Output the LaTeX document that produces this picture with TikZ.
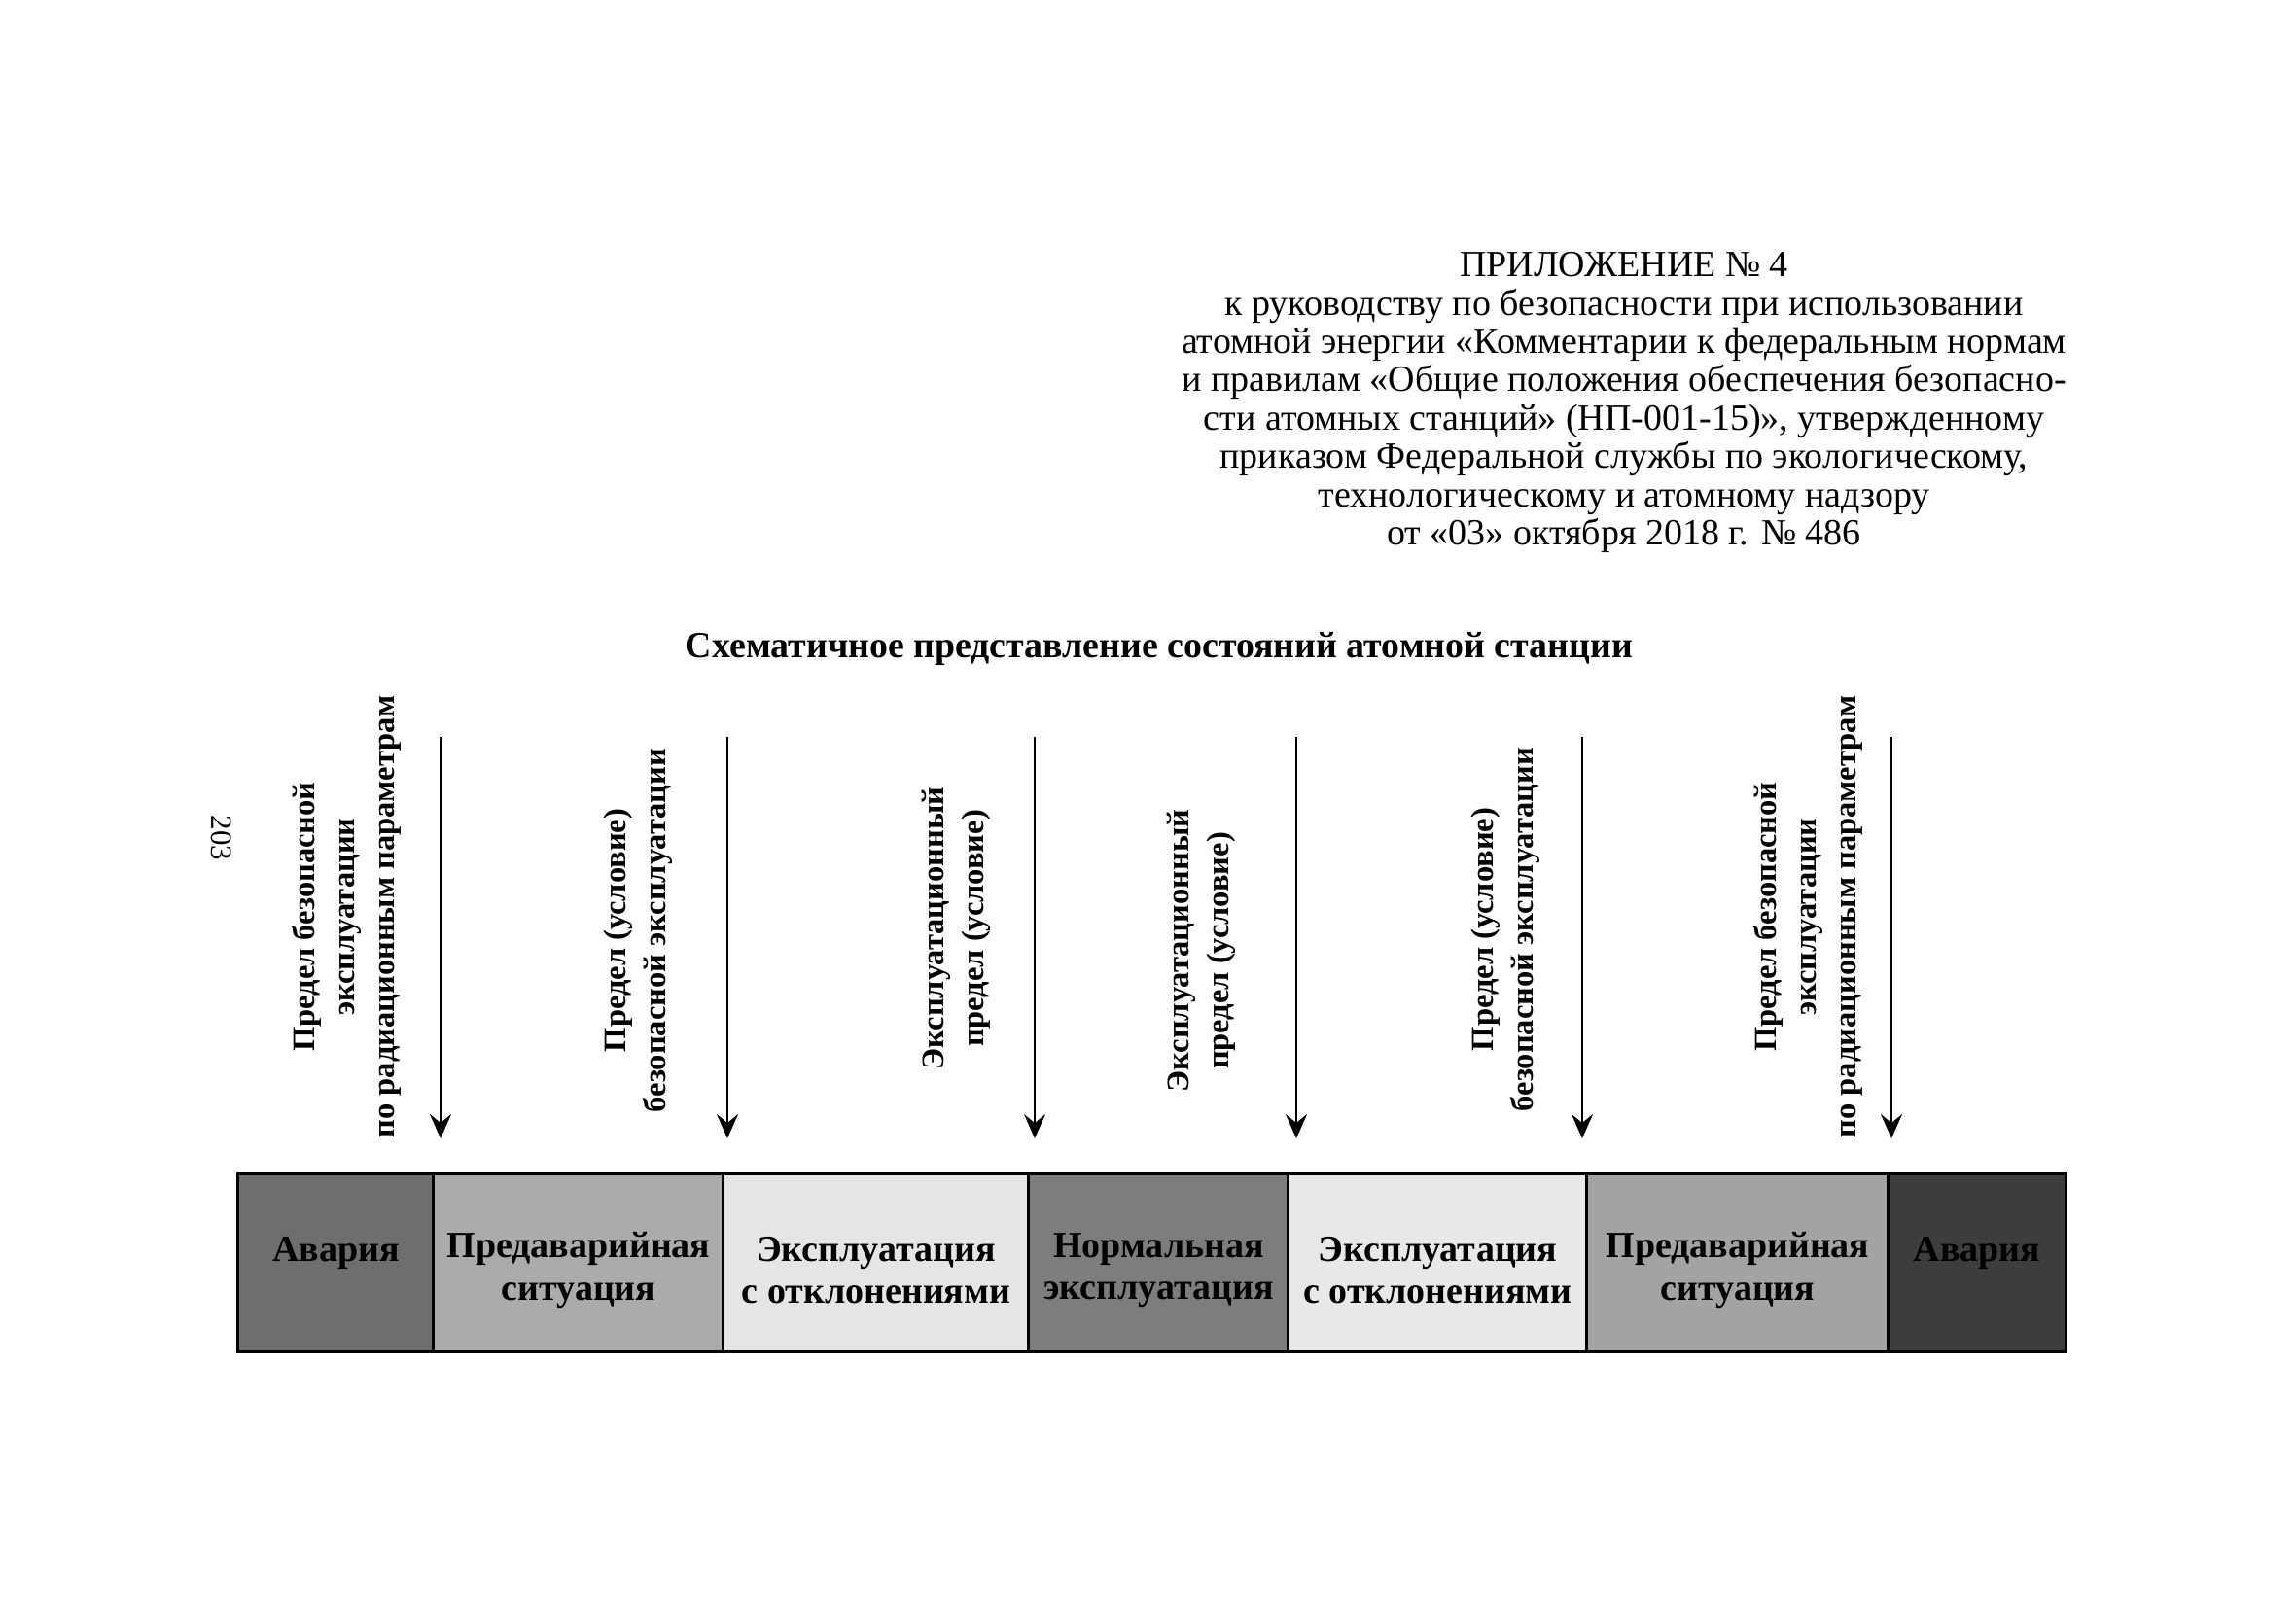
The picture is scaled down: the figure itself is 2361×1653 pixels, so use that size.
\documentclass[tikz,border=0pt]{standalone}
\usepackage{fontspec}
\setmainfont{Liberation Serif}
\usetikzlibrary{arrows.meta}
\begin{document}
\begin{tikzpicture}[x=0.01cm,y=-0.01cm,
  hdr/.style={font=\fontsize{10.8}{11.2}\selectfont, align=center, inner sep=0pt},
  ttl/.style={font=\fontsize{10.77}{12}\selectfont\bfseries, inner sep=0pt},
  pagenum/.style={font=\fontsize{8.8}{10}\selectfont, rotate=-90, inner sep=0pt},
  state/.style={draw=black, line width=0.85pt, minimum height=1.82cm, inner sep=0pt,
    anchor=center, align=center, font=\fontsize{10.8}{12.4}\selectfont\bfseries},
  limlabel/.style={rotate=90, align=center, inner sep=0pt,
    font=\fontsize{9.25}{11.7}\selectfont\bfseries},
  limarrow/.style={line width=0.7pt, -{Stealth[length=0.25cm, width=0.22cm, inset=0.09cm]}}
]
\useasboundingbox (0,0) rectangle (2361,1653);
\fill[white] (0,0) rectangle (2361,1653);

% header
\node[hdr] (header) at (1670,414) {ПРИЛОЖЕНИЕ № 4\\
к руководству по безопасности при использовании\\
атомной энергии «Комментарии к федеральным нормам\\
и правилам «Общие положения обеспечения безопасно-\\
сти атомных станций» (НП-001-15)», утвержденному\\
приказом Федеральной службы по экологическому,\\
технологическому и атомному надзору\\
от «03» октября 2018 г. № 486};

\node[ttl] (title) at (1192,667) {Схематичное представление состояний атомной станции};

\node[pagenum] (page) at (228,862) {203};

% states (rectangles)
\node[state, fill=black!57, minimum width=2.01cm] (s1) at (345.5,1299) {};
\node[state, fill=black!33, minimum width=2.98cm] (s2) at (595,1299) {};
\node[state, fill=black!10, minimum width=3.14cm] (s3) at (901,1299) {};
\node[state, fill=black!51, minimum width=2.67cm] (s4) at (1191.5,1299) {};
\node[state, fill=black!9, minimum width=3.07cm] (s5) at (1478.5,1299) {};
\node[state, fill=black!36, minimum width=3.10cm] (s6) at (1787,1299) {};
\node[state, fill=black!76, minimum width=1.82cm] (s7) at (2033,1299) {};

% state labels
\tikzset{slabel/.style={align=center, inner sep=0pt, anchor=center,
    font=\fontsize{10.8}{12.4}\selectfont\bfseries}}
\node[slabel] (n1) at ([yshift=-0.075cm]s1.center) {Авария\\\mbox{}};
\node[slabel] (n2) at ([yshift=-0.075cm]s2.center) {Предаварийная\\ситуация};
\node[slabel] (n3) at ([yshift=-0.075cm]s3.center) {Эксплуатация\\с отклонениями};
\node[slabel] (n4) at ([yshift=-0.075cm]s4.center) {Нормальная\\эксплуатация};
\node[slabel] (n5) at ([yshift=-0.075cm]s5.center) {Эксплуатация\\с отклонениями};
\node[slabel] (n6) at ([yshift=-0.075cm]s6.center) {Предаварийная\\ситуация};
\node[slabel] (n7) at ([yshift=-0.075cm]s7.center) {Авария\\\mbox{}};

% limit arrows
\foreach \i/\x in {1/453,2/748,3/1064,4/1333,5/1627,6/1945}{
  \coordinate (t\i) at (\x,758);
  \coordinate (h\i) at (\x,1171);
  \draw[limarrow] (t\i) -- (h\i);
}

% limit labels
\node[limlabel] (l1) at (356,943) {Предел безопасной\\эксплуатации\\по радиационным параметрам};
\node[limlabel] (l2) at (656,957) {Предел (условие)\\безопасной эксплуатации};
\node[limlabel] (l3) at (983,955) {Эксплуатационный\\предел (условие)};
\node[limlabel] (l4) at (1235,978) {Эксплуатационный\\предел (условие)};
\node[limlabel] (l5) at (1548,956) {Предел (условие)\\безопасной эксплуатации};
\node[limlabel] (l6) at (1859,943) {Предел безопасной\\эксплуатации\\по радиационным параметрам};
\end{tikzpicture}
\end{document}
